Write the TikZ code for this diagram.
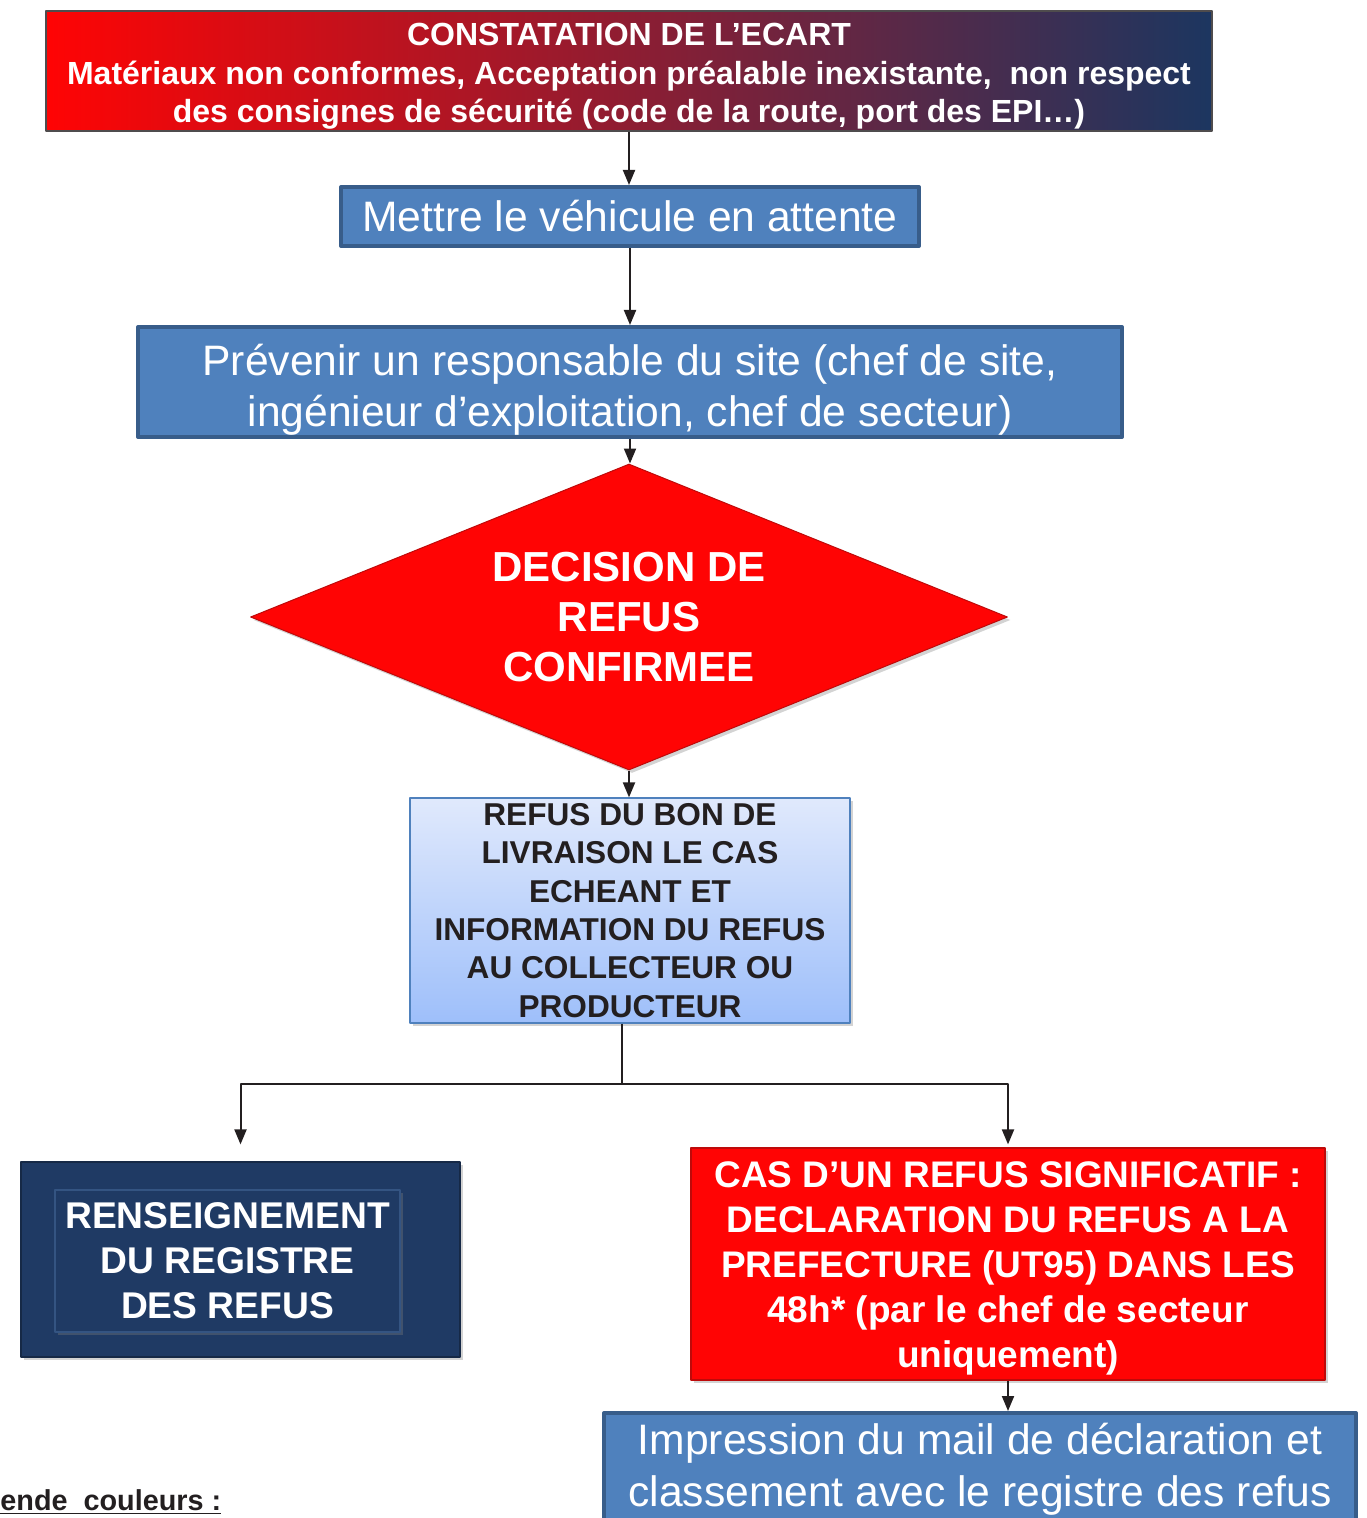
\documentclass[tikz,border=0pt]{standalone}
\usepackage{fontspec}
\setmainfont{Liberation Sans}
\usetikzlibrary{shapes.geometric,arrows.meta,shadows}
\definecolor{bleu}{RGB}{79,129,189}
\definecolor{bleubord}{RGB}{56,93,138}
\definecolor{marine}{RGB}{31,58,100}
\definecolor{marineclair}{RGB}{52,84,130}
\definecolor{rouge}{RGB}{255,4,4}
\definecolor{rougebord}{RGB}{190,10,10}
\definecolor{cramoisi}{RGB}{210,28,58}
\definecolor{nuit}{RGB}{28,54,96}
\definecolor{bleuclair}{RGB}{224,233,252}
\definecolor{bleuciel}{RGB}{158,191,250}
\definecolor{fleche}{RGB}{35,31,32}
\tikzset{
  ombre/.style={drop shadow={opacity=0.35,shadow xshift=1.5pt,shadow yshift=-1.5pt}},
  titre/.style={draw=fleche!80, line width=0.8pt, left color=rouge, middle color=cramoisi, right color=nuit,
    text=white, align=center, inner sep=0pt, font=\bfseries\fontsize{16}{19.2}\selectfont},
  boite/.style={draw=bleubord, line width=2pt, fill=bleu, text=white, align=center, inner sep=0pt,
    font=\fontsize{21.3}{25.5}\selectfont},
  losange/.style={diamond, aspect=2.474, draw=rougebord, line width=0.5pt, fill=rouge, text=white, align=center,
    inner sep=0pt, font=\bfseries\fontsize{21}{25}\selectfont, ombre},
  infobox/.style={draw=bleu, line width=0.6pt, top color=bleuclair, bottom color=bleuciel, text=fleche,
    align=center, inner sep=0pt, font=\bfseries\fontsize{15.8}{19.2}\selectfont, ombre},
  sombre/.style={draw=marine!70!black, line width=0.6pt, fill=marine, ombre},
  sombreint/.style={draw=marineclair, line width=0.8pt, fill=marine, text=white, align=center, inner sep=0pt,
    font=\bfseries\fontsize{18.6}{22.5}\selectfont, ombre},
  alerte/.style={draw=rougebord, line width=0.6pt, fill=rouge, text=white, align=center, inner sep=0pt,
    font=\bfseries\fontsize{18.5}{22.5}\selectfont, ombre},
  fl/.style={->, draw=fleche, line width=1pt},
  fil/.style={draw=fleche, line width=1pt}
}
\begin{document}
\begin{tikzpicture}[x=0.5pt, y=-0.5pt, >={Triangle[length=7.5pt,width=6pt]}, line join=round]
  \def\W{1366} \def\H{1518}
  \useasboundingbox (0,0) rectangle (\W,\H);
  % boites
  \node (ecart) at (629,71) [titre, minimum width=583pt, minimum height=60pt]
    {\rule{0pt}{16.5pt}CONSTATATION DE L’ECART\\ Matériaux non conformes, Acceptation préalable inexistante,~ non respect\\ des consignes de sécurité (code de la route, port des EPI…)};
  \node (attente) at (630,216.5) [boite, minimum width=289pt, minimum height=29.5pt]
    {Mettre le véhicule en attente};
  \node (prevenir) at (630,382) [boite, minimum width=492pt, minimum height=55pt]
    {\rule{0pt}{23pt}Prévenir un responsable du site (chef de site,\\ ingénieur d’exploitation, chef de secteur)};
  \node (decision) at (629,617) [losange, minimum width=378.5pt, minimum height=153pt]
    {DECISION DE\\ REFUS\\ CONFIRMEE};
  \node (info) at (630,910.5) [infobox, minimum width=220pt, minimum height=112.5pt]
    {REFUS DU BON DE\\ LIVRAISON LE CAS\\ ECHEANT ET\\ INFORMATION DU REFUS\\ AU COLLECTEUR OU\\ PRODUCTEUR};
  \node (reg) at (240.5,1259.5) [sombre, minimum width=219.5pt, minimum height=97.5pt] {};
  \node (regint) at (227.5,1261) [sombreint, minimum width=172.5pt, minimum height=71pt]
    {RENSEIGNEMENT\\ DU REGISTRE\\ DES REFUS};
  \node (decl) at (1008,1264) [alerte, minimum width=317pt, minimum height=116pt]
    {\rule{0pt}{17pt}CAS D’UN REFUS SIGNIFICATIF :\\ DECLARATION DU REFUS A LA\\ PREFECTURE (UT95) DANS LES\\ 48h* (par le chef de secteur\\ uniquement)};
  \node (impr) at (980,1469) [boite, minimum width=376pt, minimum height=56pt, font=\fontsize{21.3}{26}\selectfont]
    {Impression du mail de déclaration et\\ classement avec le registre des refus};
  \node (legende) at (0,1510) [anchor=base west, inner sep=0pt, text=fleche, font=\bfseries\fontsize{14.4}{17}\selectfont]
    {\underline{ende\ \ couleurs :}};
  % fleches
  \draw[fl] (ecart.south) -- (ecart.south |- attente.north);
  \draw[fl] (attente.south) -- (attente.south |- prevenir.north);
  \draw[fl] (prevenir.south) -- (prevenir.south |- decision.north);
  \draw[fl] (decision.south) -- (decision.south |- info.north);
  \coordinate (split) at (622,1084);
  \draw[fil] (info.south -| split) -- (split);
  \draw[fl, shorten >=8.5pt] (split) -| (reg.north);
  \draw[fl, shorten >=1.5pt] (split) -| (decl.north);
  \draw[fl] (decl.south) -- (decl.south |- impr.north);
\end{tikzpicture}
\end{document}
